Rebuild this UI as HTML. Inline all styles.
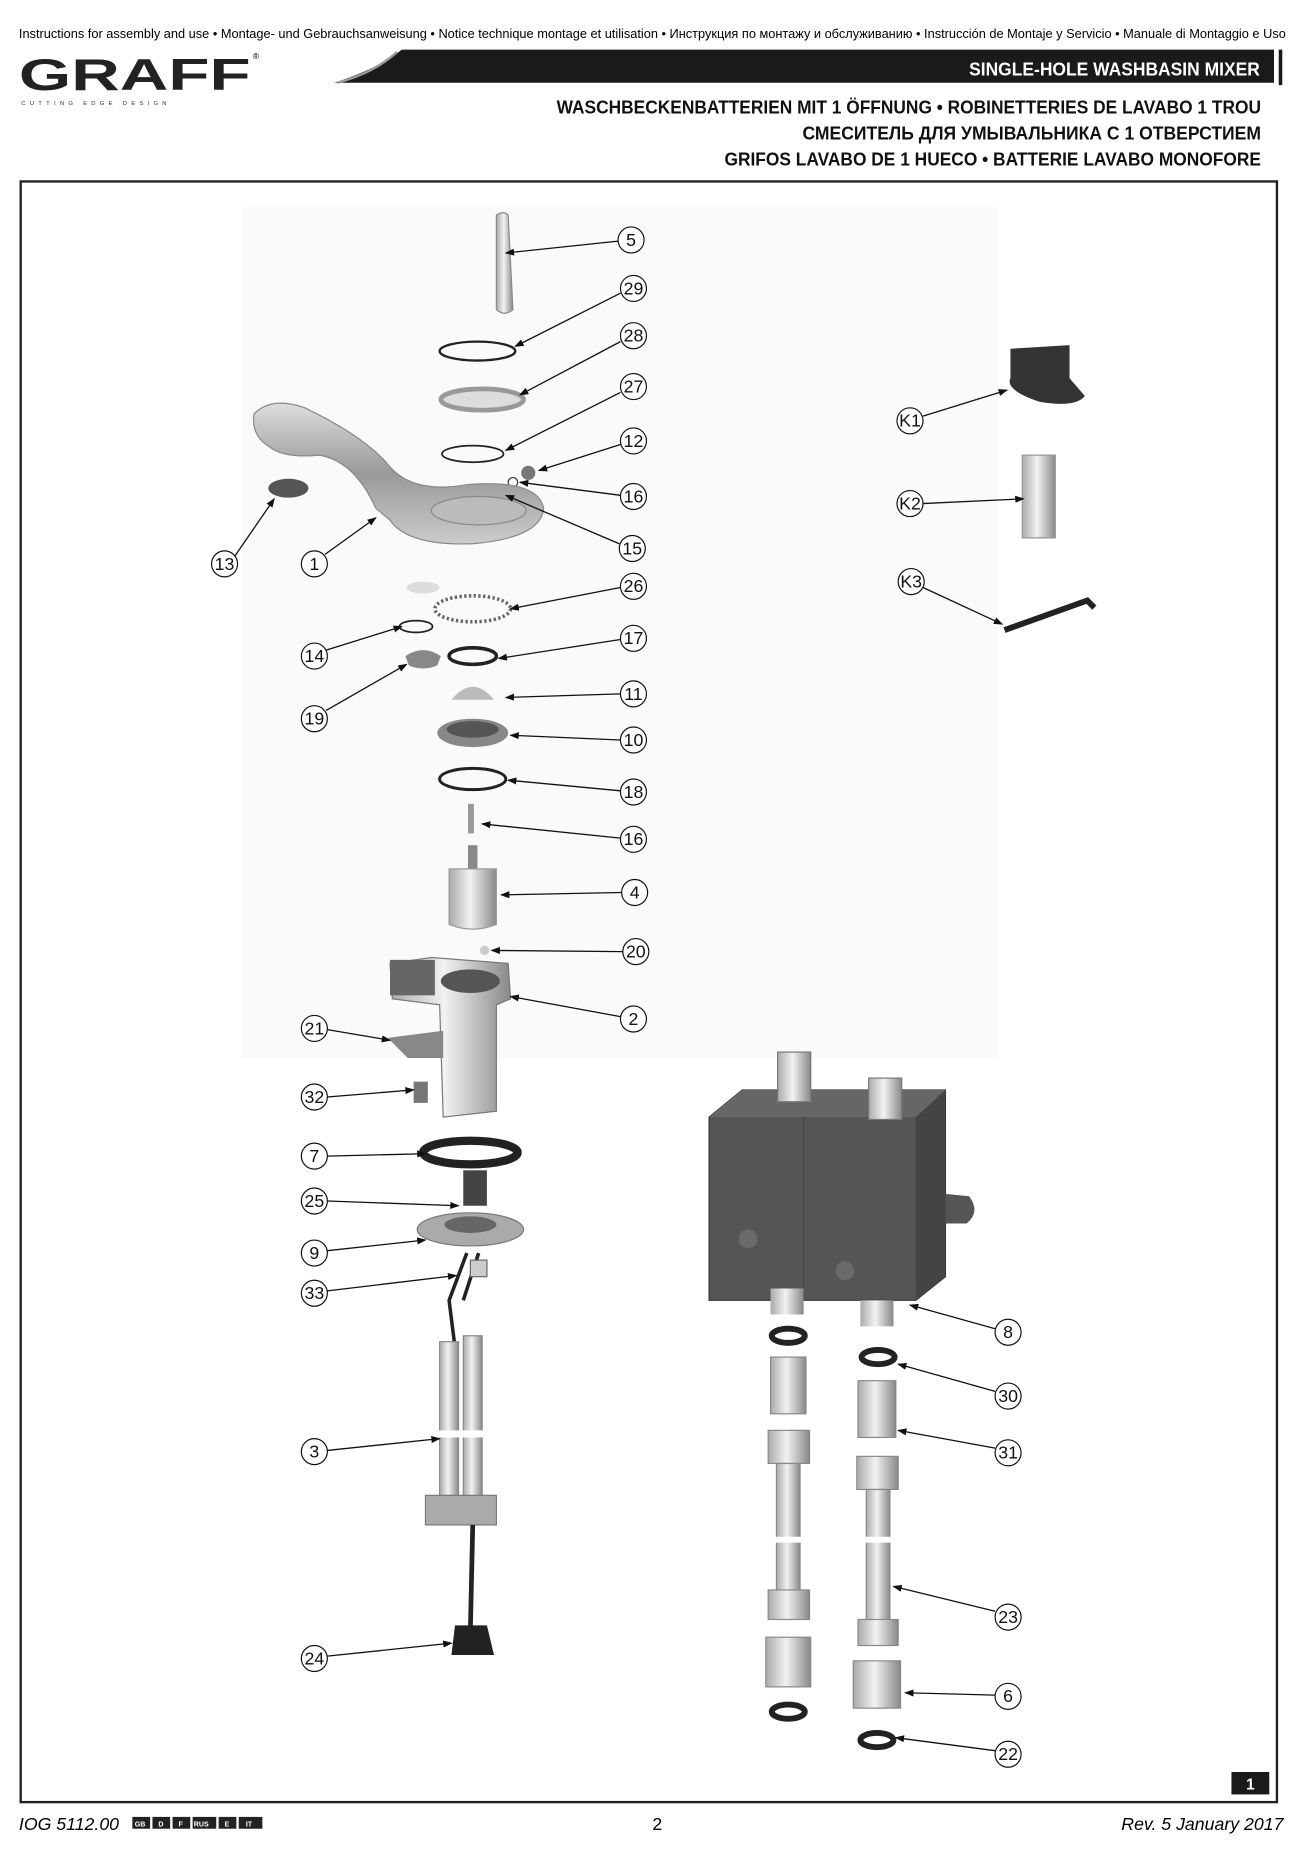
<!DOCTYPE html>
<html><head><meta charset="utf-8"><style>
html,body{margin:0;padding:0;background:#fff;}
svg{display:block;}
text{font-family:"Liberation Sans",sans-serif;}
</style></head><body>
<svg width="1300" height="1850" viewBox="0 0 1100 1565" preserveAspectRatio="none" xmlns="http://www.w3.org/2000/svg">
<defs>
<marker id="ar" markerWidth="8" markerHeight="6" refX="7" refY="3" orient="auto" markerUnits="userSpaceOnUse"><path d="M0,0 L8,3 L0,6 z" fill="#111"/></marker>
<linearGradient id="met" x1="0" x2="1"><stop offset="0" stop-color="#aaa"/><stop offset=".45" stop-color="#f2f2f2"/><stop offset="1" stop-color="#888"/></linearGradient>
<linearGradient id="metv" x1="0" y1="0" x2="0" y2="1"><stop offset="0" stop-color="#ddd"/><stop offset=".5" stop-color="#999"/><stop offset="1" stop-color="#ccc"/></linearGradient>
</defs>
<!-- header -->
<text x="16" y="32" font-size="11.2" textLength="1072" lengthAdjust="spacingAndGlyphs">Instructions for assembly and use • Montage- und Gebrauchsanweisung • Notice technique montage et utilisation • Инструкция по монтажу и обслуживанию • Instrucción de Montaje y Servicio • Manuale di Montaggio e Uso</text>
<text x="16" y="76" font-size="38" font-weight="bold" fill="#222" textLength="196" lengthAdjust="spacingAndGlyphs">GRAFF</text>
<text x="214" y="50" font-size="7">®</text>
<text x="18" y="89" font-size="5" letter-spacing="3.6" fill="#333">CUTTING EDGE DESIGN</text>
<path d="M340,42 L1078,42 L1078,70 L283,70 Q320,58 340,42 z" fill="#1a1a1a"/>
<path d="M336,44 Q316,62 285,70" stroke="#999" stroke-width="2" fill="none"/>
<rect x="1082" y="42" width="3" height="30" fill="#1a1a1a"/>
<text x="1066" y="64" font-size="16" font-weight="bold" fill="#fff" text-anchor="end" textLength="246" lengthAdjust="spacingAndGlyphs">SINGLE-HOLE WASHBASIN MIXER</text>
<g font-size="16" font-weight="bold" text-anchor="end" fill="#111">
<text x="1067" y="96" textLength="596" lengthAdjust="spacingAndGlyphs">WASCHBECKENBATTERIEN MIT 1 ÖFFNUNG • ROBINETTERIES DE LAVABO 1 TROU</text>
<text x="1067" y="118" textLength="388" lengthAdjust="spacingAndGlyphs">СМЕСИТЕЛЬ ДЛЯ УМЫВАЛЬНИКА С 1 ОТВЕРСТИЕМ</text>
<text x="1067" y="140" textLength="454" lengthAdjust="spacingAndGlyphs">GRIFOS LAVABO DE 1 HUECO • BATTERIE LAVABO MONOFORE</text>
</g>
<!-- frame -->
<rect x="17.5" y="153.5" width="1063" height="1371" fill="none" stroke="#222" stroke-width="2"/>
<rect x="1042" y="1499" width="32" height="19" fill="#1a1a1a"/>
<text x="1058" y="1514" font-size="13" font-weight="bold" fill="#fff" text-anchor="middle">1</text>
<!-- footer -->
<text x="16" y="1548" font-size="15" font-style="italic">IOG 5112.00</text>
<g font-size="6" font-weight="bold" fill="#fff">
<rect x="112" y="1537" width="15" height="10" fill="#222"/><text x="114" y="1545">GB</text>
<rect x="129" y="1537" width="15" height="10" fill="#222"/><text x="134" y="1545">D</text>
<rect x="146" y="1537" width="15" height="10" fill="#222"/><text x="151" y="1545">F</text>
<rect x="163" y="1537" width="20" height="10" fill="#222"/><text x="164" y="1545">RUS</text>
<rect x="185" y="1537" width="15" height="10" fill="#222"/><text x="190" y="1545">E</text>
<rect x="202" y="1537" width="20" height="10" fill="#222"/><text x="208" y="1545">IT</text>
</g>
<text x="552" y="1548" font-size="15">2</text>
<text x="1086" y="1548" font-size="15" font-style="italic" text-anchor="end">Rev. 5 January 2017</text>

<!-- faint backgrounds -->
<rect x="205" y="175" width="640" height="720" fill="#fafafa"/>
<!-- PARTS left column -->
<path d="M420,182 Q426,178 430,182 L434,262 Q427,268 420,262 z" fill="url(#met)" stroke="#888"/>
<ellipse cx="404" cy="297" rx="32" ry="8" fill="none" stroke="#222" stroke-width="2"/>
<ellipse cx="408" cy="338" rx="35" ry="9" fill="#ddd" stroke="#999" stroke-width="4"/>
<ellipse cx="400" cy="384" rx="26" ry="7" fill="none" stroke="#222" stroke-width="1.5"/>
<circle cx="447" cy="400" r="6" fill="#777"/><circle cx="434" cy="408" r="4" fill="none" stroke="#333"/><circle cx="424" cy="417" r="4" fill="#ccc" stroke="#888"/>
<!-- spout -->
<path d="M215,350 Q230,335 258,345 Q310,370 330,395 Q350,418 395,410 Q455,405 460,430 Q458,455 400,460 Q345,462 330,440 L318,430 Q300,390 270,385 Q240,388 228,378 Q212,368 215,350 z" fill="url(#metv)" stroke="#888"/>
<ellipse cx="405" cy="432" rx="40" ry="12" fill="#bbb" stroke="#888"/>
<ellipse cx="244" cy="413" rx="17" ry="8" fill="#555"/>
<!-- 26 -->
<ellipse cx="400" cy="515" rx="32" ry="11" fill="none" stroke="#666" stroke-width="3" stroke-dasharray="2 2"/>
<ellipse cx="358" cy="497" rx="14" ry="5" fill="#ddd"/>
<ellipse cx="352" cy="530" rx="14" ry="5" fill="none" stroke="#222" stroke-width="1.5"/>
<ellipse cx="400" cy="555" rx="20" ry="7" fill="none" stroke="#222" stroke-width="3"/>
<path d="M343,555 Q358,545 373,555 L370,563 Q358,568 346,563 z" fill="#888"/>
<path d="M382,592 Q400,570 418,592 z" fill="#bbb"/>
<ellipse cx="400" cy="620" rx="30" ry="12" fill="#888"/><ellipse cx="400" cy="617" rx="22" ry="7" fill="#555"/>
<ellipse cx="400" cy="659" rx="28" ry="9" fill="none" stroke="#222" stroke-width="2.5"/>
<rect x="396" y="680" width="5" height="25" fill="#999"/>
<rect x="396" y="715" width="8" height="20" fill="#888"/>
<path d="M380,735 L420,735 L420,782 Q400,790 380,782 z" fill="url(#met)" stroke="#999"/>
<circle cx="410" cy="804" r="4" fill="#ccc"/>
<!-- 2 body -->
<path d="M330,815 L365,810 L430,815 L432,845 L420,850 L420,940 L375,945 L372,850 L332,845 z" fill="url(#met)" stroke="#777"/>
<rect x="330" y="812" width="38" height="30" fill="#666"/>
<ellipse cx="398" cy="830" rx="25" ry="10" fill="#555"/>
<path d="M328,878 L375,872 L375,895 L345,895 z" fill="#888"/>
<rect x="350" y="915" width="12" height="18" fill="#777"/>
<ellipse cx="398" cy="975" rx="40" ry="10" fill="none" stroke="#222" stroke-width="7"/>
<rect x="392" y="990" width="20" height="30" fill="#444"/>
<ellipse cx="398" cy="1040" rx="45" ry="14" fill="#aaa" stroke="#777"/><ellipse cx="398" cy="1036" rx="22" ry="7" fill="#666"/>
<path d="M395,1060 L380,1100 L385,1140 M405,1060 L392,1100" stroke="#222" stroke-width="3" fill="none"/>
<rect x="398" y="1066" width="14" height="14" fill="#ccc" stroke="#666"/>
<!-- 3 hoses -->
<rect x="372" y="1135" width="16" height="150" fill="url(#met)" stroke="#888"/>
<rect x="392" y="1130" width="16" height="155" fill="url(#met)" stroke="#888"/>
<rect x="360" y="1265" width="60" height="25" fill="#aaa" stroke="#777"/>
<rect x="355" y="1210" width="75" height="6" fill="#fff"/>
<path d="M400,1290 L398,1380" stroke="#222" stroke-width="4"/>
<path d="M385,1375 L412,1375 L418,1400 L382,1400 z" fill="#222"/>
<!-- PARTS right -->
<path d="M855,295 L905,292 L905,320 L918,335 Q910,345 880,340 Q850,330 855,320 z" fill="#333"/>
<path d="M865,385 L893,385 L893,455 L865,455 z" fill="url(#met)" stroke="#999"/>
<path d="M850,533 L920,508 L926,514" stroke="#222" stroke-width="5" fill="none"/>
<!-- thermostat body -->
<path d="M600,945 L628,922 L800,922 L800,1080 L775,1100 L600,1100 z" fill="#555" stroke="#333"/>
<path d="M600,945 L628,922 L800,922 L775,945 z" fill="#666"/>
<path d="M775,945 L800,922 L800,1080 L775,1100 z" fill="#444"/>
<path d="M800,1010 L820,1012 Q830,1025 818,1035 L800,1035 z" fill="#555"/>
<line x1="680" y1="945" x2="680" y2="1100" stroke="#444"/>
<circle cx="633" cy="1048" r="8" fill="#6a6a6a"/><circle cx="715" cy="1075" r="8" fill="#6a6a6a"/>
<rect x="658" y="890" width="28" height="42" fill="url(#met)" stroke="#777"/>
<rect x="735" y="912" width="28" height="35" fill="url(#met)" stroke="#777"/>
<rect x="652" y="1090" width="28" height="22" fill="url(#met)"/>
<rect x="728" y="1100" width="28" height="22" fill="url(#met)"/>
<!-- left fittings col -->
<ellipse cx="667" cy="1130" rx="14" ry="6" fill="none" stroke="#222" stroke-width="5"/>
<rect x="652" y="1148" width="30" height="48" fill="url(#met)" stroke="#888"/>
<rect x="650" y="1210" width="35" height="28" fill="url(#met)" stroke="#888"/>
<rect x="657" y="1238" width="20" height="112" fill="url(#met)" stroke="#888"/>
<rect x="650" y="1345" width="35" height="25" fill="url(#met)" stroke="#888"/>
<rect x="648" y="1385" width="38" height="42" fill="url(#met)" stroke="#888"/>
<ellipse cx="667" cy="1448" rx="14" ry="6" fill="none" stroke="#222" stroke-width="5"/>
<!-- right fittings col -->
<ellipse cx="743" cy="1148" rx="14" ry="6" fill="none" stroke="#222" stroke-width="5"/>
<rect x="726" y="1168" width="32" height="48" fill="url(#met)" stroke="#888"/>
<rect x="725" y="1232" width="35" height="28" fill="url(#met)" stroke="#888"/>
<rect x="733" y="1260" width="20" height="115" fill="url(#met)" stroke="#888"/>
<rect x="726" y="1370" width="34" height="22" fill="url(#met)" stroke="#888"/>
<rect x="722" y="1405" width="40" height="40" fill="url(#met)" stroke="#888"/>
<ellipse cx="742" cy="1472" rx="14" ry="6" fill="none" stroke="#222" stroke-width="5"/>
<rect x="630" y="1300" width="150" height="5" fill="#fff"/>

<!-- leader lines -->
<g stroke="#111" stroke-width="1.1" fill="none" marker-end="url(#ar)">
<line x1="523" y1="204" x2="428" y2="214"/>
<line x1="525" y1="248" x2="436" y2="293"/>
<line x1="525" y1="289" x2="440" y2="334"/>
<line x1="525" y1="332" x2="428" y2="381"/>
<line x1="525" y1="376" x2="456" y2="398"/>
<line x1="525" y1="419" x2="440" y2="408"/>
<line x1="524" y1="460" x2="428" y2="419"/>
<line x1="199" y1="470" x2="232" y2="422"/>
<line x1="275" y1="469" x2="318" y2="438"/>
<line x1="525" y1="497" x2="432" y2="515"/>
<line x1="276" y1="550" x2="340" y2="530"/>
<line x1="525" y1="541" x2="422" y2="557"/>
<line x1="276" y1="601" x2="344" y2="562"/>
<line x1="525" y1="587" x2="428" y2="590"/>
<line x1="525" y1="626" x2="432" y2="622"/>
<line x1="525" y1="669" x2="430" y2="660"/>
<line x1="525" y1="709" x2="408" y2="697"/>
<line x1="526" y1="755" x2="424" y2="757"/>
<line x1="527" y1="805" x2="416" y2="804"/>
<line x1="525" y1="860" x2="432" y2="843"/>
<line x1="277" y1="871" x2="330" y2="880"/>
<line x1="277" y1="928" x2="350" y2="922"/>
<line x1="277" y1="978" x2="360" y2="976"/>
<line x1="277" y1="1016" x2="388" y2="1020"/>
<line x1="277" y1="1058" x2="360" y2="1049"/>
<line x1="277" y1="1092" x2="386" y2="1079"/>
<line x1="277" y1="1227" x2="372" y2="1217"/>
<line x1="277" y1="1401" x2="382" y2="1390"/>
<line x1="781" y1="352" x2="852" y2="330"/>
<line x1="781" y1="426" x2="866" y2="422"/>
<line x1="781" y1="497" x2="848" y2="528"/>
<line x1="842" y1="1124" x2="770" y2="1104"/>
<line x1="842" y1="1177" x2="760" y2="1154"/>
<line x1="842" y1="1225" x2="760" y2="1210"/>
<line x1="842" y1="1363" x2="756" y2="1342"/>
<line x1="842" y1="1434" x2="766" y2="1432"/>
<line x1="842" y1="1481" x2="758" y2="1470"/>
</g>
<!-- callouts -->
<g font-size="15" text-anchor="middle" fill="#111">
<g fill="#fff" stroke="#111" stroke-width="1">
<circle cx="534" cy="203" r="11"/><circle cx="536" cy="244" r="11"/><circle cx="536" cy="284" r="11"/><circle cx="536" cy="327" r="11"/><circle cx="536" cy="373" r="11"/><circle cx="536" cy="420" r="11"/><circle cx="535" cy="464" r="11"/><circle cx="190" cy="477" r="11"/><circle cx="266" cy="477" r="11"/><circle cx="536" cy="496" r="11"/><circle cx="266" cy="555" r="11"/><circle cx="536" cy="540" r="11"/><circle cx="266" cy="608" r="11"/><circle cx="536" cy="587" r="11"/><circle cx="536" cy="626" r="11"/><circle cx="536" cy="670" r="11"/><circle cx="536" cy="710" r="11"/><circle cx="537" cy="755" r="11"/><circle cx="538" cy="805" r="11"/><circle cx="536" cy="862" r="11"/><circle cx="266" cy="870" r="11"/><circle cx="266" cy="928" r="11"/><circle cx="266" cy="978" r="11"/><circle cx="266" cy="1016" r="11"/><circle cx="266" cy="1060" r="11"/><circle cx="266" cy="1094" r="11"/><circle cx="266" cy="1228" r="11"/><circle cx="266" cy="1403" r="11"/><circle cx="770" cy="356" r="11"/><circle cx="770" cy="426" r="11"/><circle cx="771" cy="492" r="11"/><circle cx="853" cy="1127" r="11"/><circle cx="853" cy="1181" r="11"/><circle cx="853" cy="1229" r="11"/><circle cx="853" cy="1368" r="11"/><circle cx="853" cy="1435" r="11"/><circle cx="853" cy="1484" r="11"/>
</g>
<text x="534" y="208">5</text><text x="536" y="249">29</text><text x="536" y="289">28</text><text x="536" y="332">27</text><text x="536" y="378">12</text><text x="536" y="425">16</text><text x="535" y="469">15</text><text x="190" y="482">13</text><text x="266" y="482">1</text><text x="536" y="501">26</text><text x="266" y="560">14</text><text x="536" y="545">17</text><text x="266" y="613">19</text><text x="536" y="592">11</text><text x="536" y="631">10</text><text x="536" y="675">18</text><text x="536" y="715">16</text><text x="537" y="760">4</text><text x="538" y="810">20</text><text x="536" y="867">2</text><text x="266" y="875">21</text><text x="266" y="933">32</text><text x="266" y="983">7</text><text x="266" y="1021">25</text><text x="266" y="1065">9</text><text x="266" y="1099">33</text><text x="266" y="1233">3</text><text x="266" y="1408">24</text><text x="770" y="361">K1</text><text x="770" y="431">K2</text><text x="771" y="497">K3</text><text x="853" y="1132">8</text><text x="853" y="1186">30</text><text x="853" y="1234">31</text><text x="853" y="1373">23</text><text x="853" y="1440">6</text><text x="853" y="1489">22</text>
</g>
</svg>
</body></html>
